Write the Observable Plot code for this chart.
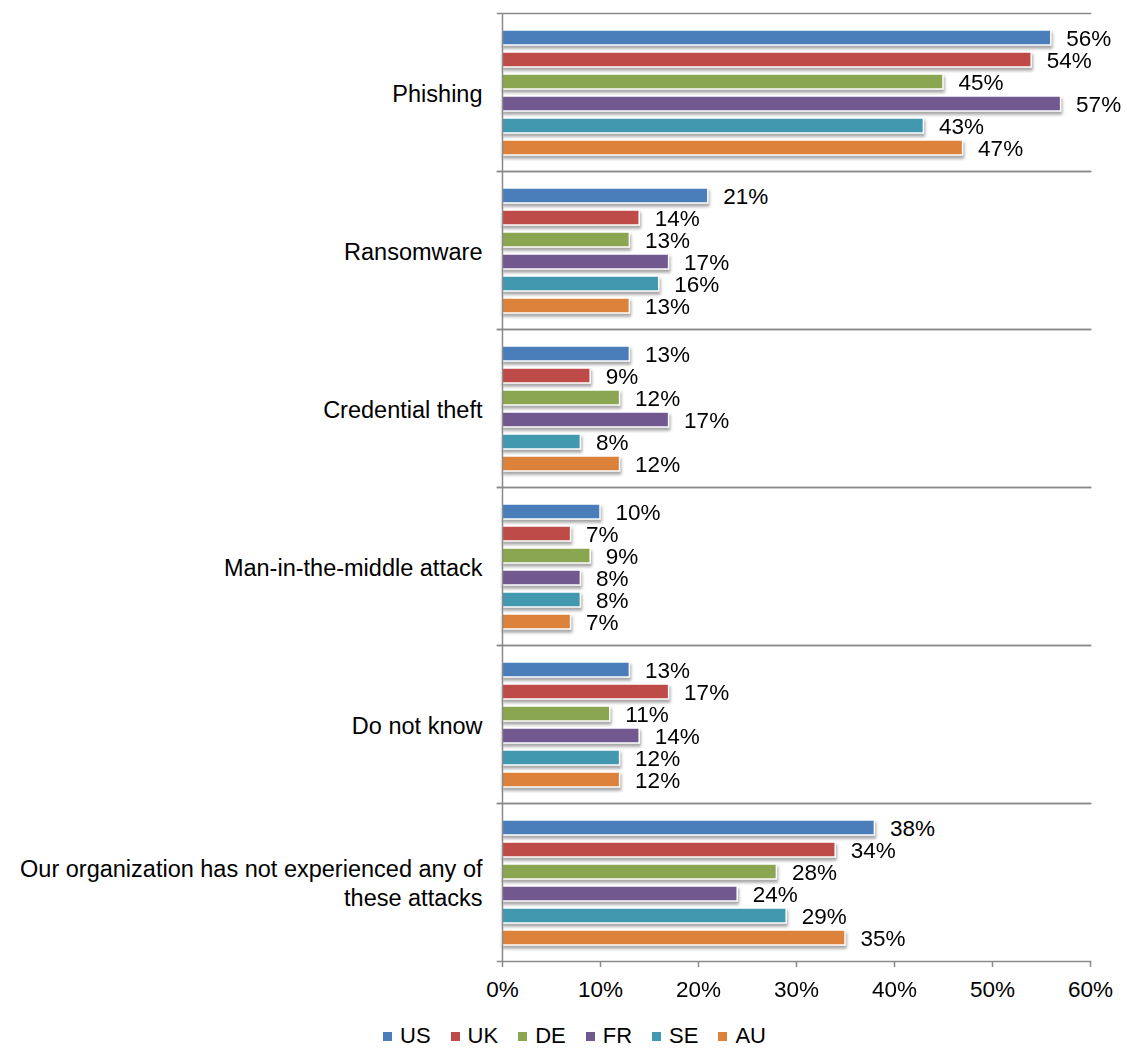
<!DOCTYPE html>
<html>
<head>
<meta charset="utf-8">
<script src="https://cdn.jsdelivr.net/npm/d3@7"></script>
<script src="https://cdn.jsdelivr.net/npm/@observablehq/plot@0.6"></script>
<style>
  html, body { margin: 0; padding: 0; background: #fff; overflow: hidden; }
  body { width: 1127px; height: 1048px; font-family: "Liberation Sans", Arial, sans-serif; }
  #legend { display: flex; justify-content: center; align-items: center; gap: 20px; margin-top: 14px; padding-left: 22px; font-size: 22px; line-height: 24px; color: #000; }
  #legend .item { display: flex; align-items: center; gap: 8px; }
  #legend .sw { width: 9px; height: 9px; display: inline-block; }
</style>
</head>
<body>
<div id="chart"></div>
<div id="legend"></div>
<script>
const categories = ["Phishing", "Ransomware", "Credential theft", "Man-in-the-middle attack", "Do not know", "Our organization has not experienced any of these attacks"];
const categoryLabels = ["Phishing", "Ransomware", "Credential theft", "Man-in-the-middle attack", "Do not know", "Our organization has not experienced any of\nthese attacks"];
const series = ["US", "UK", "DE", "FR", "SE", "AU"];
const US = [56, 21, 13, 10, 13, 38];
const UK = [54, 14, 9, 7, 17, 34];
const DE = [45, 13, 12, 9, 11, 28];
const FR = [57, 17, 17, 8, 14, 24];
const SE = [43, 16, 8, 8, 12, 29];
const AU = [47, 13, 12, 7, 12, 35];
const xTicks = [0, 10, 20, 30, 40, 50, 60];
const xTickLabels = ["0%", "10%", "20%", "30%", "40%", "50%", "60%"];

const palette = ["#4a7ebb", "#be4b48", "#8aa650", "#71588f", "#4298ae", "#dd823b"];
const seriesValues = [US, UK, DE, FR, SE, AU];

const data = [];
categories.forEach((c, i) => {
  series.forEach((s, j) => {
    data.push({category: c, series: s, value: seriesValues[j][i]});
  });
});
const labelData = categories.map((c, i) => ({category: c, label: categoryLabels[i]}));

const font = "Liberation Sans, Arial, sans-serif";
const axisGrey = "#8a8a8a";

const chart = Plot.plot({
  width: 1127,
  height: 1010,
  marginTop: 13,
  marginBottom: 49,
  marginLeft: 502,
  marginRight: 37,
  style: {fontFamily: font, fontSize: "23px", color: "#000", background: "#fff", overflow: "visible"},
  x: {domain: [0, 60], axis: null},
  y: {domain: series, paddingInner: 0.34, paddingOuter: 0.65, axis: null},
  fy: {domain: categories, paddingInner: 0, paddingOuter: 0, axis: null},
  color: {domain: series, range: palette},
  marks: [
    Plot.barX(data, {
      fy: "category", y: "series", x: "value", fill: "series",
      stroke: "white", strokeWidth: 1.5
    }),
    Plot.frame({anchor: "top", stroke: axisGrey, strokeWidth: 1.5, insetLeft: -5}),
    Plot.frame({anchor: "bottom", stroke: axisGrey, strokeWidth: 1.5, insetLeft: -5}),
    Plot.ruleX([0], {stroke: axisGrey, strokeWidth: 1.5}),
    Plot.text(data, {
      fy: "category", y: "series", x: "value",
      text: d => d.value + "%", textAnchor: "start", dx: 15, dy: 1,
      fontSize: 22.5, fill: "#000"
    }),
    Plot.text(labelData, {
      fy: "category", text: "label", frameAnchor: "left", dx: -20,
      textAnchor: "end", lineHeight: 1.2, fontSize: 23.5, fill: "#000"
    }),
    Plot.axisX({
      ticks: xTicks, tickFormat: (d) => xTickLabels[xTicks.indexOf(d)],
      tickSize: 6, tickPadding: 14, stroke: axisGrey, strokeWidth: 1.5,
      fontSize: 22.5, fill: "#000", label: null
    })
  ]
});

d3.select(chart).selectAll('g[aria-label="bar"]')
  .style("filter", "drop-shadow(1px 3px 1.5px rgba(0,0,0,0.35))");

document.getElementById("chart").appendChild(chart);

const legend = d3.select("#legend");
series.forEach((s, i) => {
  const item = legend.append("span").attr("class", "item");
  item.append("span").attr("class", "sw").style("background", palette[i]);
  item.append("span").text(s);
});
</script>
</body>
</html>
